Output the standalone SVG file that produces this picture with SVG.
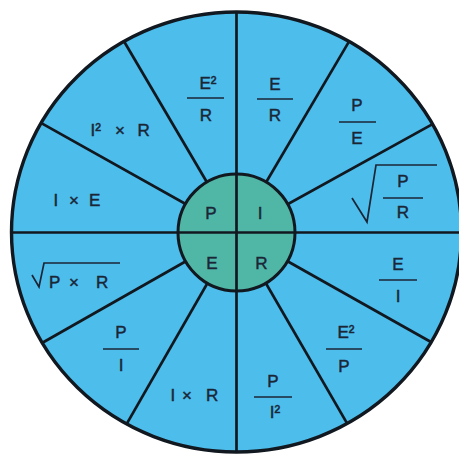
<svg xmlns="http://www.w3.org/2000/svg" width="459" height="455" viewBox="0 0 459 455">
<style>
.t{font-family:"Liberation Sans",Arial,sans-serif;font-size:17px;fill:#1a2636;stroke:#1a2636;stroke-width:0.45}
.m{text-anchor:middle}
.bar{stroke:#1a2636;stroke-width:1.7}
.rad{fill:none;stroke:#1a2636;stroke-width:1.7;stroke-linejoin:miter}
.sp{stroke:#11181f;stroke-width:2.7}
</style>
<defs>
<clipPath id="oc"><ellipse cx="236.5" cy="232" rx="225" ry="220"/></clipPath>
</defs>
<rect width="459" height="455" fill="#ffffff"/>
<ellipse id="outer" cx="236.5" cy="232" rx="225" ry="220" fill="#4dbdec"/>
<g id="connectors" clip-path="url(#oc)">
<line class="sp" x1="0" y1="232.5" x2="470" y2="232.5"/>
<line class="sp" x1="236.5" y1="0" x2="236.5" y2="460"/>
<line class="sp" x1="236.5" y1="232.5" x2="440.7" y2="119.6"/>
<line class="sp" x1="236.5" y1="232.5" x2="352.5" y2="35.6"/>
<line class="sp" x1="236.5" y1="232.5" x2="119.4" y2="33.5"/>
<line class="sp" x1="236.5" y1="232.5" x2="33.3" y2="118.6"/>
<line class="sp" x1="236.5" y1="232.5" x2="32.3" y2="348.5"/>
<line class="sp" x1="236.5" y1="232.5" x2="119.4" y2="436.7"/>
<line class="sp" x1="236.5" y1="232.5" x2="353.6" y2="434.6"/>
<line class="sp" x1="236.5" y1="232.5" x2="440.7" y2="347.5"/>
</g>
<ellipse cx="236.5" cy="232" rx="225" ry="220" fill="none" stroke="#11181f" stroke-width="3.4"/>
<g id="center">
<circle cx="236.5" cy="232.5" r="58.5" fill="#50b6a6" stroke="#11181f" stroke-width="3"/>
<line class="sp" x1="178" y1="232.5" x2="295" y2="232.5"/>
<line class="sp" x1="236.5" y1="174" x2="236.5" y2="291"/>
<text class="t m" x="211" y="219">P</text>
<text class="t m" x="260" y="219">I</text>
<text class="t m" x="212" y="269">E</text>
<text class="t m" x="261.5" y="269">R</text>
</g>
<g id="s-e2r">
<text class="t m" x="208" y="89">E²</text>
<line class="bar" x1="187" y1="98" x2="224" y2="98"/>
<text class="t m" x="206" y="121">R</text>
</g>
<g id="s-er">
<text class="t m" x="275" y="90">E</text>
<line class="bar" x1="257" y1="99" x2="293" y2="99"/>
<text class="t m" x="275" y="121">R</text>
</g>
<g id="s-pe">
<text class="t m" x="357" y="111">P</text>
<line class="bar" x1="339" y1="122" x2="376" y2="122"/>
<text class="t m" x="357" y="144">E</text>
</g>
<g id="s-sqrtpr">
<path class="rad" d="M352,198 L367,222 L376,165 L437,165"/>
<text class="t m" x="403" y="187">P</text>
<line class="bar" x1="383" y1="198" x2="423" y2="198"/>
<text class="t m" x="403" y="218">R</text>
</g>
<g id="s-ei">
<text class="t m" x="398" y="270">E</text>
<line class="bar" x1="379" y1="280" x2="417" y2="280"/>
<text class="t m" x="398" y="302">I</text>
</g>
<g id="s-e2p">
<text class="t m" x="346" y="338">E²</text>
<line class="bar" x1="326" y1="349" x2="362" y2="349"/>
<text class="t m" x="344" y="372">P</text>
</g>
<g id="s-pi2">
<text class="t m" x="273" y="387">P</text>
<line class="bar" x1="254" y1="397" x2="292" y2="397"/>
<text class="t m" x="275" y="418">I²</text>
</g>
<g id="s-ixr">
<text class="t" x="170.5" y="401">I</text>
<text class="t m" x="187" y="401">×</text>
<text class="t" x="206" y="401">R</text>
</g>
<g id="s-pi">
<text class="t m" x="121" y="338">P</text>
<line class="bar" x1="103" y1="349" x2="139" y2="349"/>
<text class="t m" x="121" y="371">I</text>
</g>
<g id="s-sqrtpxr">
<path class="rad" d="M32,275 L39,287 L44,263 L120,263"/>
<text class="t" x="49" y="288">P</text>
<text class="t m" x="74" y="288">×</text>
<text class="t" x="96" y="288">R</text>
</g>
<g id="s-ixe">
<text class="t" x="53.5" y="206">I</text>
<text class="t m" x="74" y="206">×</text>
<text class="t" x="89" y="206">E</text>
</g>
<g id="s-i2xr">
<text class="t" x="90.5" y="136">I²</text>
<text class="t m" x="120" y="136">×</text>
<text class="t" x="137.5" y="136">R</text>
</g>
</svg>
